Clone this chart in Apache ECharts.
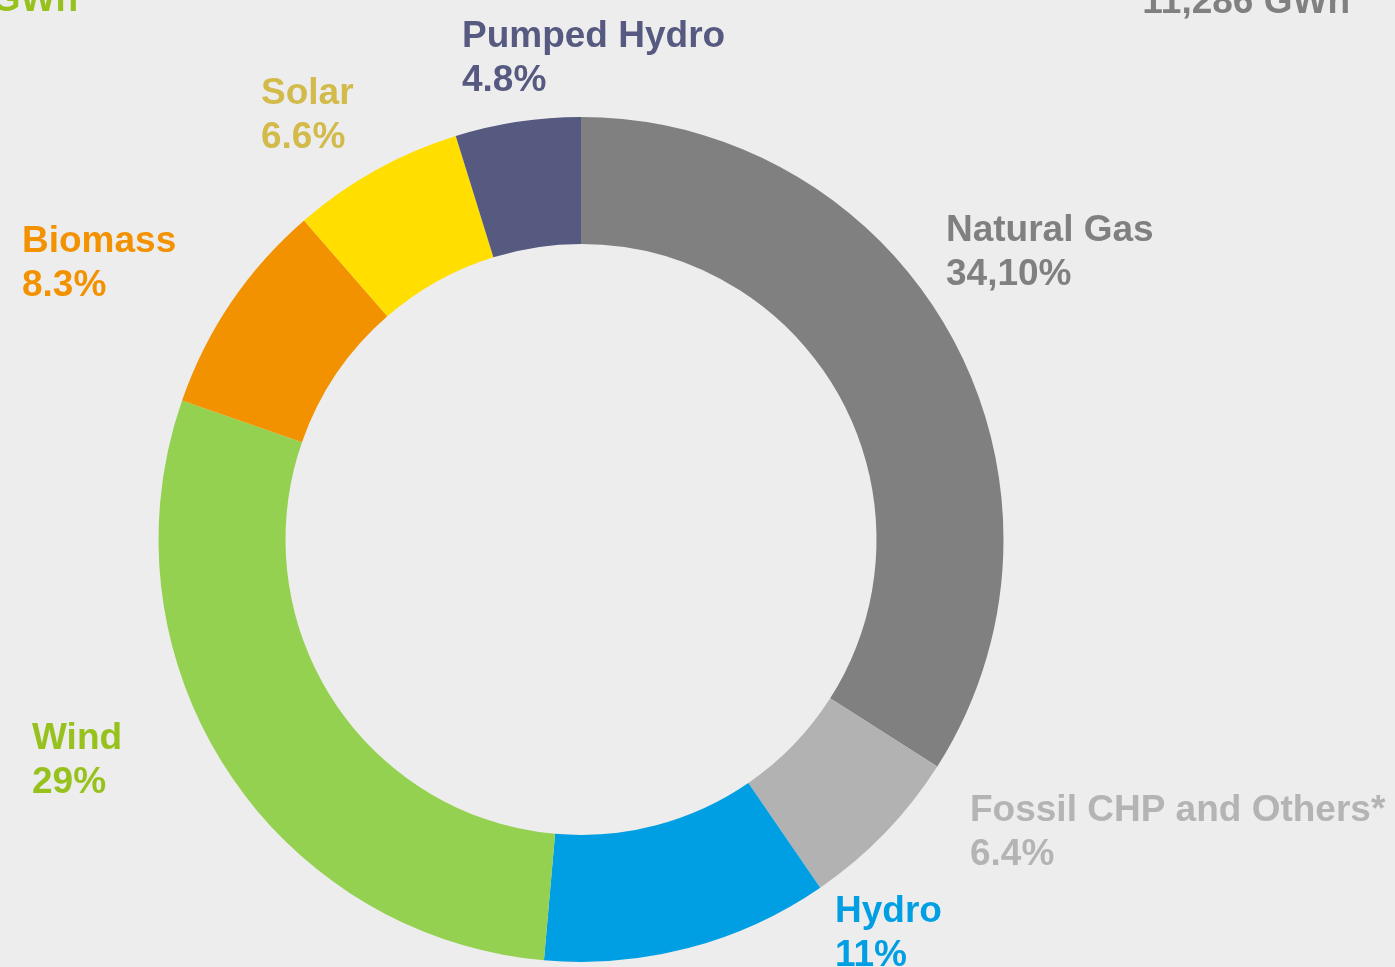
<!DOCTYPE html>
<html>
<head>
<meta charset="utf-8">
<title>Electricity mix</title>
<script src="https://cdn.jsdelivr.net/npm/echarts@6/dist/echarts.min.js"></script>
<style>
  html, body { margin: 0; padding: 0; background: #ededed; }
  #chart { width: 1395px; height: 967px; }
</style>
</head>
<body>
<div id="chart"></div>
<script>
// 数据（顺时针，从12点方向开始）
const sources = ['Natural Gas', 'Fossil CHP and Others*', 'Hydro', 'Wind', 'Biomass', 'Solar', 'Pumped Hydro']
const shares = [34.1, 6.4, 11, 29, 8.3, 6.6, 4.8]
const shareLabels = ['34,10%', '6.4%', '11%', '29%', '8.3%', '6.6%', '4.8%']
const sliceColors = ['#808080', '#b2b2b2', '#009fe3', '#95d151', '#f39200', '#ffde00', '#575a80']
const textColors = ['#808080', '#b4b4b4', '#009fe3', '#97c21e', '#f39200', '#d2ba4b', '#575a80']
// 标签左上角位置
const labelPos = [[946, 209], [970, 789], [835, 890], [32, 717], [22, 220], [261, 72], [462, 15]]

const font = "'Liberation Sans', Arial, sans-serif"

const chart = echarts.init(document.getElementById('chart'))

const option = {
  backgroundColor: '#ededed',
  animation: false,
  graphic: [
    {
      type: 'text', x: 78, y: 1,
      style: {
        text: 'GWh', fill: '#97c21e', font: 'bold 37px ' + font,
        align: 'right', verticalAlign: 'middle'
      }
    },
    {
      type: 'text', x: 1350, y: 3,
      style: {
        text: '11,286 GWh', fill: '#808080', font: 'bold 37px ' + font,
        align: 'right', verticalAlign: 'middle'
      }
    }
  ],
  series: [
    {
      type: 'pie',
      center: [581, 539.5],
      radius: [295.5, 422.5],
      startAngle: 90,
      clockwise: true,
      avoidLabelOverlap: false,
      itemStyle: { borderWidth: 0 },
      label: {
        show: true,
        position: 'outside',
        fontFamily: font,
        fontWeight: 'bold',
        fontSize: 37,
        lineHeight: 44,
        formatter: (p) => p.name + '\n' + shareLabels[p.dataIndex]
      },
      labelLine: { show: false },
      labelLayout: (p) => ({
        x: labelPos[p.dataIndex][0],
        y: labelPos[p.dataIndex][1],
        align: 'left',
        verticalAlign: 'top'
      }),
      emphasis: { disabled: true },
      data: sources.map((name, i) => ({
        name: name,
        value: shares[i],
        itemStyle: { color: sliceColors[i] },
        label: { color: textColors[i] }
      }))
    }
  ]
}

chart.setOption(option)
</script>
</body>
</html>
